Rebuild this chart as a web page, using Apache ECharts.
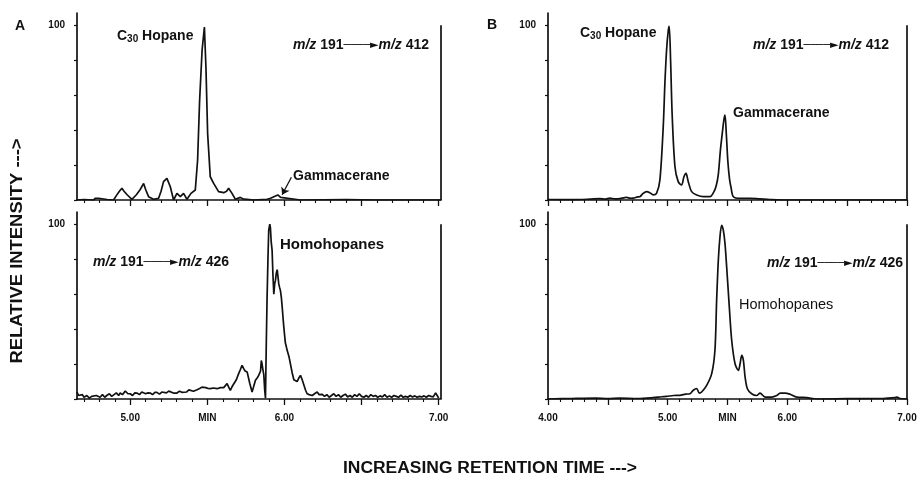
<!DOCTYPE html>
<html>
<head>
<meta charset="utf-8">
<script src="https://cdn.jsdelivr.net/npm/echarts@6/dist/echarts.min.js"></script>
<style>
html,body{margin:0;padding:0;background:#fff;}
#chart{width:920px;height:478px;}
</style>
</head>
<body>
<div id="chart"></div>
<script>
// ---- data (retention time in min, relative intensity %) ----
const panelA412 = [[4.655,0],[4.70,0.3],[4.762,0],[4.775,1],[4.784,2],[4.795,1],[4.805,0],[4.85,0.3],[4.892,0],[4.91,2.5],[4.93,5],[4.946,6.7],[4.96,5],[4.98,3],[5.011,0.4],[5.04,3],[5.065,6],[5.087,9.5],[5.10,6],[5.119,1.9],[5.151,0.4],[5.184,1],[5.20,5],[5.216,10.5],[5.238,12.4],[5.26,7.6],[5.281,0],[5.303,3.8],[5.325,1.9],[5.346,3.8],[5.368,0.4],[5.394,3.8],[5.422,5.7],[5.437,22.9],[5.45,57],[5.466,85.7],[5.481,99],[5.491,76],[5.502,38],[5.519,13.3],[5.541,9.5],[5.573,4.8],[5.606,4.2],[5.625,5],[5.638,6.7],[5.66,3.8],[5.682,0.4],[5.714,1.5],[5.735,0.5],[5.758,0.4],[5.80,0],[5.887,0.4],[5.91,1],[5.931,1.9],[5.957,2.9],[5.975,1.5],[5.985,0.4],[6.104,0],[6.4,0.3],[6.6,0],[7.015,0]];

const panelA426 = [[4.655,4],[4.665,2],[4.675,1],[4.69,2.5],[4.70,1],[4.719,2],[4.735,0.5],[4.75,1.5],[4.762,1],[4.78,2],[4.805,1],[4.82,2.5],[4.835,1],[4.848,2],[4.865,3],[4.88,1.5],[4.892,2],[4.91,3.5],[4.925,2],[4.935,3.4],[4.95,2.5],[4.968,4.6],[4.985,3],[5.0,3],[5.015,2],[5.03,3.5],[5.043,3.4],[5.06,2.5],[5.075,4],[5.087,4.6],[5.10,3],[5.115,3.5],[5.130,3.4],[5.145,2.5],[5.16,3.8],[5.173,3.8],[5.19,2.8],[5.205,4],[5.216,3],[5.235,3.5],[5.25,4.5],[5.260,4],[5.28,3.4],[5.303,3.4],[5.32,4.5],[5.335,3.8],[5.346,4.6],[5.365,4],[5.38,5.2],[5.390,5],[5.41,4.4],[5.433,5.3],[5.45,6],[5.465,6.8],[5.476,7.8],[5.49,6.5],[5.505,6],[5.519,5.9],[5.54,6.3],[5.563,5.9],[5.585,6.5],[5.606,6.5],[5.618,7],[5.628,8.8],[5.64,6.5],[5.649,5],[5.660,7],[5.671,6.9],[5.688,11],[5.703,14.5],[5.715,17],[5.725,19.3],[5.735,17.5],[5.745,16],[5.758,15.5],[5.775,9],[5.790,4],[5.80,7],[5.812,10.7],[5.823,12],[5.833,13.5],[5.845,16],[5.850,22],[5.855,20],[5.860,17],[5.866,14],[5.872,5],[5.877,0.5],[5.882,30],[5.887,56],[5.893,80],[5.898,96.6],[5.905,100],[5.909,98],[5.914,90],[5.920,85],[5.925,72],[5.931,60],[5.937,66],[5.942,68],[5.947,72],[5.953,74],[5.958,70],[5.963,66],[5.968,64],[5.974,62],[5.980,58],[5.985,53],[5.995,42],[6.006,32],[6.012,30],[6.017,28],[6.022,28],[6.03,24],[6.039,20],[6.05,15],[6.061,11],[6.072,10],[6.082,10],[6.093,12],[6.104,13.5],[6.115,11],[6.126,8],[6.137,5],[6.147,3],[6.16,2.5],[6.17,1.5],[6.180,2],[6.195,3],[6.212,4],[6.225,2.5],[6.245,2.7],[6.26,1.5],[6.275,2.5],[6.29,1],[6.305,2],[6.32,3],[6.335,1.5],[6.35,2.5],[6.365,1],[6.38,2],[6.395,2.8],[6.41,1.2],[6.425,2],[6.44,1],[6.455,2.5],[6.47,1.5],[6.485,3],[6.50,1.5],[6.515,1],[6.53,2],[6.545,1],[6.56,2.5],[6.575,1.5],[6.59,2],[6.605,1],[6.62,1.8],[6.635,1.2],[6.65,2.5],[6.665,1],[6.68,1.8],[6.695,1],[6.71,2],[6.725,1.5],[6.74,1],[6.755,2.2],[6.77,1],[6.785,1.5],[6.80,1],[6.815,2],[6.83,1.2],[6.845,1.8],[6.86,1],[6.875,1.5],[6.89,1.2],[6.905,1.8],[6.92,1],[6.935,2],[6.95,1.5],[6.965,1.2],[6.98,3.5],[6.99,2],[7.0,0.5]];

const panelB412 = [[4.0,0.3],[4.2,0.2],[4.35,0.5],[4.433,0.8],[4.48,0.5],[4.516,1.1],[4.56,0.6],[4.6,0.8],[4.656,1.5],[4.69,1],[4.712,1.1],[4.75,1.8],[4.767,1.9],[4.795,3.8],[4.823,4.8],[4.851,4.2],[4.879,2.9],[4.907,3.8],[4.935,11.4],[4.963,42],[4.977,67],[4.991,86],[5.005,97],[5.013,99.4],[5.024,81],[5.038,48],[5.061,19],[5.088,10.5],[5.116,8.6],[5.136,13.3],[5.153,15.2],[5.172,10.5],[5.200,4.8],[5.242,2.9],[5.298,1.9],[5.354,1.9],[5.385,4.5],[5.405,8],[5.423,14.5],[5.440,28],[5.456,38],[5.470,46],[5.479,48.6],[5.490,38],[5.503,22],[5.517,12],[5.530,7],[5.549,1.9],[5.605,1],[5.689,1],[5.772,0.6],[5.85,0.3],[6.0,0],[7.0,0]];

const panelB426 = [[4.0,0],[4.2,0.3],[4.4,0.5],[4.5,0.2],[4.6,0.5],[4.75,0.3],[4.879,0.8],[4.95,1.3],[4.991,1.5],[5.05,2],[5.102,2.1],[5.15,2.8],[5.186,3],[5.214,5],[5.242,6],[5.264,3.4],[5.284,4],[5.326,7.8],[5.368,14.5],[5.395,27.9],[5.409,56],[5.423,79],[5.437,92.7],[5.451,99.4],[5.465,96.6],[5.479,89],[5.493,75.6],[5.515,52.7],[5.535,33.6],[5.563,20.2],[5.591,16.4],[5.605,20.2],[5.619,25],[5.633,22],[5.647,12.6],[5.666,5.9],[5.702,3],[5.744,2],[5.772,3.4],[5.814,1.1],[5.870,1.1],[5.912,2],[5.940,3.4],[5.982,3.4],[6.023,2.7],[6.079,1.1],[6.163,0.8],[6.247,0],[6.5,0.2],[6.8,0.3],[6.9,0.8],[6.916,1.1],[6.94,0.3],[7.0,0]];

// axis ranges and ticks
const rangeA = [4.655, 7.015];
const rangeB = [4.0, 7.0];
const majorTicksA = [5.0, 5.5, 6.0, 6.5, 7.0];
const majorTicksB = [4.0, 4.5, 5.0, 5.5, 6.0, 6.5, 7.0];
const labelValsA = [5.0, 5.5, 6.0, 7.0];
const labelTextsA = ['5.00', 'MIN', '6.00', '7.00'];
const labelValsB = [4.0, 5.0, 5.5, 6.0, 7.0];
const labelTextsB = ['4.00', '5.00', 'MIN', '6.00', '7.00'];
const yTickVals = [0, 20, 40, 60, 80, 100];
const yLabelVals = [100];
const gammaArrowA = [[6.045, 13], [5.985, 3]];

function minorTicks(range) {
  const out = [];
  for (let k = Math.ceil(range[0] * 10); k <= Math.floor(range[1] * 10 + 1e-6); k++) {
    if (k % 5 !== 0) out.push(k / 10);
  }
  return out;
}

const FONT = "'Liberation Sans', Arial, Helvetica, sans-serif";
const BLACK = '#111';

const grids = [
  {left: 77, right: 479, top: 13, height: 187},
  {left: 77, right: 479, top: 212, height: 187},
  {left: 548, right: 13, top: 13, height: 187},
  {left: 548, right: 13, top: 212, height: 187}
];

const panels = [
  {data: panelA412, range: rangeA, majors: majorTicksA, lv: labelValsA, lt: labelTextsA, labels: false},
  {data: panelA426, range: rangeA, majors: majorTicksA, lv: labelValsA, lt: labelTextsA, labels: true},
  {data: panelB412, range: rangeB, majors: majorTicksB, lv: labelValsB, lt: labelTextsB, labels: false, smooth: 0.3},
  {data: panelB426, range: rangeB, majors: majorTicksB, lv: labelValsB, lt: labelTextsB, labels: true, smooth: 0.3}
];

const xAxis = [], yAxis = [], series = [];
panels.forEach((p, i) => {
  xAxis.push({
    type: 'value', gridIndex: i, min: p.range[0], max: p.range[1], position: 'bottom',
    axisLine: {show: true, onZero: false, lineStyle: {color: BLACK, width: 1.7}},
    axisTick: {show: true, customValues: p.majors, length: 6, lineStyle: {color: BLACK, width: 1.3}},
    axisLabel: {show: p.labels, customValues: p.lv, margin: 14,
      formatter: v => { const j = p.lv.findIndex(x => Math.abs(x - v) < 1e-6); return j >= 0 ? p.lt[j] : ''; },
      fontFamily: FONT, fontSize: 10, fontWeight: 'bold', color: BLACK},
    splitLine: {show: false}
  });
  xAxis.push({
    type: 'value', gridIndex: i, min: p.range[0], max: p.range[1], position: 'bottom', offset: 0,
    axisLine: {show: false},
    axisTick: {show: true, customValues: minorTicks(p.range), length: 3, lineStyle: {color: BLACK, width: 1.1}},
    axisLabel: {show: false},
    splitLine: {show: false}
  });
  yAxis.push({
    type: 'value', gridIndex: i, min: 0, max: 107,
    axisLine: {show: true, lineStyle: {color: BLACK, width: 1.7}},
    axisTick: {show: true, customValues: yTickVals, length: 3, lineStyle: {color: BLACK, width: 1.2}},
    axisLabel: {show: true, customValues: yLabelVals, margin: 12, fontFamily: FONT, fontSize: 10, fontWeight: 'bold', color: BLACK},
    splitLine: {show: false}
  });
  const markData = [[{coord: [p.range[1], 0]}, {coord: [p.range[1], 100]}]];
  const s = {
    type: 'line', xAxisIndex: i * 2, yAxisIndex: i, data: p.data,
    showSymbol: false, symbol: 'none', smooth: p.smooth || false,
    lineStyle: {color: BLACK, width: 1.7}, silent: true, animation: false,
    markLine: {silent: true, symbol: ['none', 'none'], label: {show: false},
      lineStyle: {color: BLACK, width: 1.7, type: 'solid'}, data: markData, animation: false}
  };
  if (i === 0) {
    s.markLine.data.push([
      {coord: gammaArrowA[0], symbol: 'none'},
      {coord: gammaArrowA[1], symbol: 'arrow', symbolSize: 7, lineStyle: {width: 1.3}}
    ]);
  }
  series.push(s);
});

const lbl = (x, y, text, size, extra) => ({
  type: 'text', x, y, silent: true,
  style: Object.assign({text, fontFamily: FONT, fontSize: size, fontWeight: 'bold', fill: BLACK, verticalAlign: 'middle', align: 'left'}, extra || {})
});
const richC = {
  b: {fontFamily: FONT, fontSize: 14, fontWeight: 'bold', color: BLACK},
  s: {fontFamily: FONT, fontSize: 10, fontWeight: 'bold', color: BLACK, padding: [7, 0, 0, 0]}
};
const richMZ = {
  i: {fontFamily: FONT, fontSize: 14, fontWeight: 'bold', fontStyle: 'italic', color: BLACK},
  b: {fontFamily: FONT, fontSize: 14, fontWeight: 'bold', color: BLACK},
  a: {fontFamily: "'DejaVu Sans', sans-serif", fontSize: 11, color: BLACK}
};
const mz = (x, y, ion) => lbl(x, y, '{i|m/z}{b| 191}{a|────►}{i|m/z}{b| ' + ion + '}', 14, {rich: richMZ});
const c30 = (x, y) => lbl(x, y, '{b|C}{s|30}{b| Hopane}', 14, {rich: richC});

const graphic = [
  lbl(15, 26, 'A', 14),
  lbl(487, 25, 'B', 14),
  c30(117, 36), mz(293, 45, '412'), lbl(293, 176, 'Gammacerane', 14),
  mz(93, 262, '426'), lbl(280, 245, 'Homohopanes', 15),
  c30(580, 33), mz(753, 45, '412'), lbl(733, 113, 'Gammacerane', 14),
  mz(767, 263, '426'), lbl(739, 305, 'Homohopanes', 14.5, {fontWeight: 'normal'}),
  {type: 'text', x: 18, y: 251, rotation: Math.PI / 2, scaleX: 1.15, silent: true,
   style: {text: 'RELATIVE INTENSITY --->', fontFamily: FONT, fontSize: 16, fontWeight: 'bold', fill: BLACK, align: 'center', verticalAlign: 'middle'}},
  {type: 'text', x: 490, y: 469, scaleX: 1.09, silent: true,
   style: {text: 'INCREASING RETENTION TIME --->', fontFamily: FONT, fontSize: 16, fontWeight: 'bold', fill: BLACK, align: 'center', verticalAlign: 'middle'}}
];

const chart = echarts.init(document.getElementById('chart'), null, {renderer: 'canvas'});
chart.setOption({
  backgroundColor: '#fff',
  animation: false,
  grid: grids,
  xAxis, yAxis, series, graphic
});
</script>
</body>
</html>
